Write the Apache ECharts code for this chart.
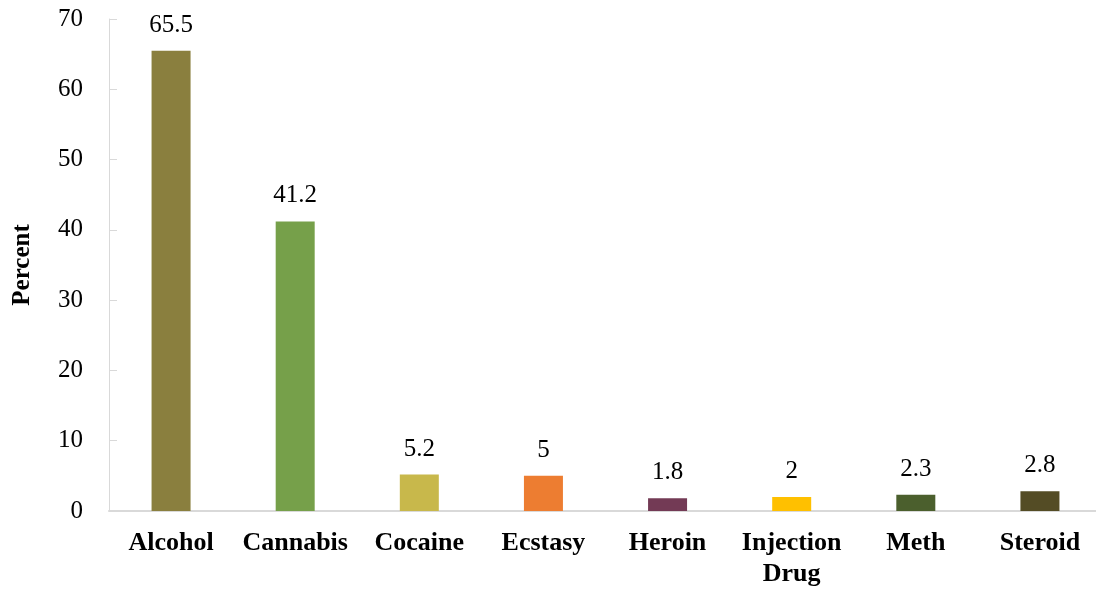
<!DOCTYPE html>
<html><head><meta charset="utf-8">
<script src="https://cdn.jsdelivr.net/npm/echarts@6/dist/echarts.min.js"></script>
<style>html,body{margin:0;padding:0;background:#fff;overflow:hidden;width:1096px;height:590px}#c{width:1104px;height:590px}</style>
</head><body><div id="c"></div>
<script>
var categories = ['Alcohol','Cannabis','Cocaine','Ecstasy','Heroin','Injection\nDrug','Meth','Steroid'];
var values = [65.5, 41.2, 5.2, 5, 1.8, 2, 2.3, 2.8];
var colors = ['#8A7F3E','#76A04A','#C8B84B','#ED7D31','#733A55','#FFC000','#4B5F2D','#544C25'];
var yTicks = [0,10,20,30,40,50,60,70];
var font = '"Liberation Serif","Times New Roman",serif';
var chart = echarts.init(document.getElementById('c'), null, {renderer:'canvas'});
chart.setOption({
  animation:false,
  grid:{left:109,right:2,top:19,bottom:79,containLabel:false},
  xAxis:{type:'category',data:categories,
    axisLine:{lineStyle:{color:'#d9d9d9',width:2}},
    axisTick:{show:false},
    axisLabel:{color:'#000',fontFamily:font,fontWeight:'bold',fontSize:26,margin:17,lineHeight:31,interval:0}},
  yAxis:{type:'value',min:0,max:70,interval:10,
    name:'Percent',nameLocation:'middle',nameGap:74,nameRotate:90,
    nameTextStyle:{color:'#000',fontFamily:font,fontWeight:'bold',fontSize:25},
    axisLine:{show:true,lineStyle:{color:'#d9d9d9',width:1}},
    axisTick:{show:true,inside:true,length:8,lineStyle:{color:'#d9d9d9'}},
    splitLine:{show:false},
    axisLabel:{color:'#000',fontFamily:font,fontSize:25,margin:26,
      formatter:function(v){return yTicks.indexOf(v)>=0?String(v):'';}}},
  series:[{type:'bar',barWidth:39,
    data:values.map(function(v,i){return {value:v,itemStyle:{color:colors[i]}};}),
    label:{show:true,position:'top',distance:13,color:'#000',fontFamily:font,fontSize:25}}]
});
</script></body></html>
